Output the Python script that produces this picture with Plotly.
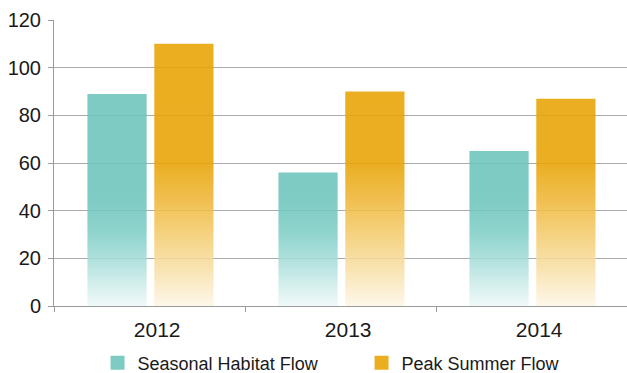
import plotly.graph_objects as go

# Data
years = ["2012", "2013", "2014"]
seasonal_habitat = [89, 56, 65]
peak_summer = [110, 90, 87]

series_names = ["Seasonal Habitat Flow", "Peak Summer Flow"]
series_values = [seasonal_habitat, peak_summer]
series_colors = ["#7ECBC4", "#EBAE21"]

# Vertical fades (value on axis -> colour), bottom lightest
teal_fade = [(0, (240, 249, 249)), (10, (208, 237, 235)), (20, (174, 224, 220)),
             (30, (146, 213, 207)), (40, (131, 206, 199)), (48, (126, 203, 196)),
             (120, (126, 203, 196))]
gold_fade = [(0, (253, 247, 234)), (15, (249, 228, 180)), (30, (245, 210, 128)),
             (45, (240, 191, 78)), (60, (235, 174, 34)), (120, (235, 174, 33))]
fades = [teal_fade, gold_fade]

ALPHA = 0.88
Y_MAX = 120


def rgba_scale(stops):
    out = []
    for v, (r, g, b) in stops:
        rr, gg, bb = [max(0, min(255, round((c - (1 - ALPHA) * 255) / ALPHA))) for c in (r, g, b)]
        out.append([v / Y_MAX, f"rgba({rr},{gg},{bb},{ALPHA})"])
    return out


BAR_W = 0.31
OFFSETS = [-0.17, 0.18]
LABEL_SHIFT = 0.04

fig = go.Figure()

for name, vals, fade, off in zip(series_names, series_values, fades, OFFSETS):
    xs, ys = [], []
    for i, v in enumerate(vals):
        left = i + off - BAR_W / 2
        right = i + off + BAR_W / 2
        xs += [left, left, right, right, left, None]
        ys += [0, v, v, 0, 0, None]
    fig.add_trace(go.Scatter(
        x=xs, y=ys, mode="none", fill="toself",
        fillgradient=dict(type="vertical", colorscale=rgba_scale(fade), start=0, stop=Y_MAX),
        showlegend=False, hoverinfo="skip",
    ))

# Legend swatches
for name, color in zip(series_names, series_colors):
    fig.add_trace(go.Scatter(x=[None], y=[None], name=name, mode="markers",
                             marker=dict(symbol="square", size=14, color=color, line=dict(width=0))))

font_family = "Liberation Sans, Arial, sans-serif"

fig.update_layout(
    width=627, height=373,
    margin=dict(l=54, r=0, t=20, b=67, autoexpand=False),
    paper_bgcolor="white", plot_bgcolor="white",
    font=dict(family=font_family, color="#1a1a1a", size=18),
    showlegend=True,
    legend=dict(orientation="h", x=0.076, xanchor="left", y=-0.135, yanchor="top",
                font=dict(size=18), entrywidthmode="pixels", entrywidth=219,
                itemclick=False, itemdoubleclick=False),
    xaxis=dict(
        range=[-0.5, 2.5], tickvals=[i + LABEL_SHIFT for i in range(len(years))],
        ticktext=years, ticks="",
        showline=True, linecolor="#9a9a9a", linewidth=1, showgrid=False, zeroline=False,
        tickfont=dict(size=21), ticklabelstandoff=5,
        minor=dict(tickvals=[-0.5, 0.5, 1.5, 2.5], ticks="outside", ticklen=5,
                   tickcolor="#9a9a9a", showgrid=False),
        fixedrange=True,
    ),
    yaxis=dict(
        range=[0, Y_MAX], dtick=20, ticks="outside", ticklen=5, tickcolor="#9a9a9a",
        showline=True, linecolor="#9a9a9a", linewidth=1,
        showgrid=True, gridcolor="#ababab", gridwidth=1, zeroline=False,
        tickfont=dict(size=20), ticklabelstandoff=3,
        fixedrange=True,
    ),
)

fig.write_html("out.html")
